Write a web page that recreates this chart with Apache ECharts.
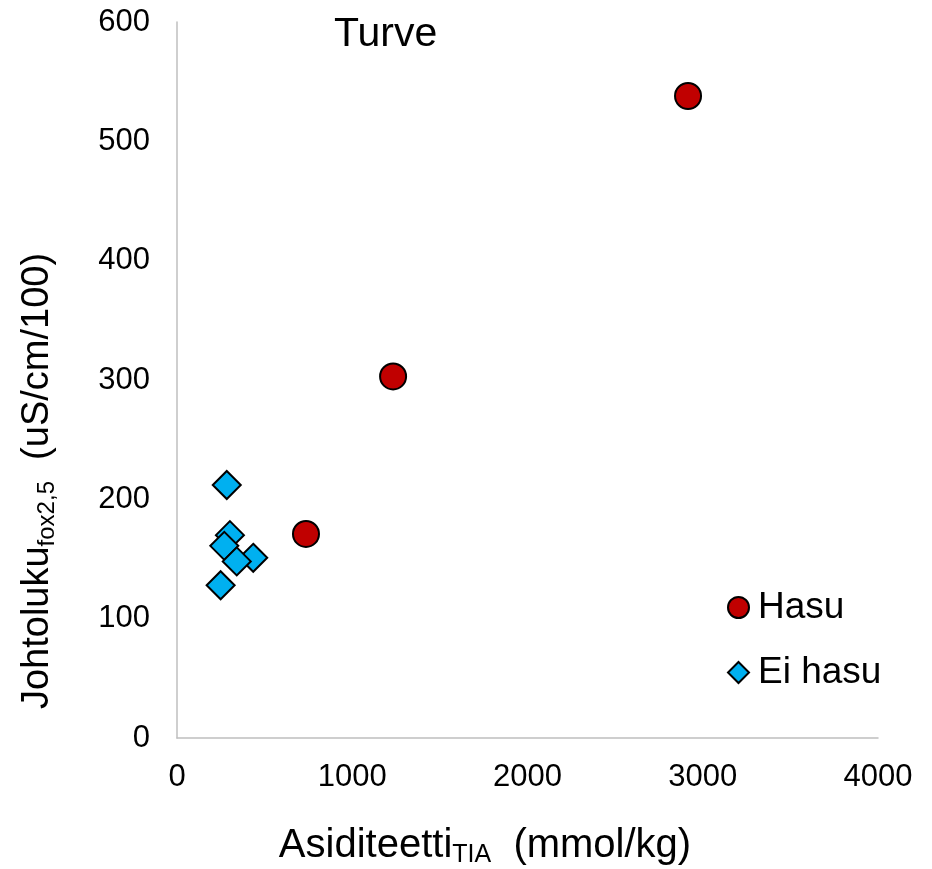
<!DOCTYPE html>
<html><head><meta charset="utf-8">
<script src="https://cdn.jsdelivr.net/npm/echarts@6/dist/echarts.min.js"></script>
<style>html,body{margin:0;padding:0;background:#fff}#c{width:932px;height:869px}</style>
</head><body><div id="c"></div>
<script>
const hasuX = [736, 1233, 2916];
const hasuY = [171, 303, 538];
const eiHasuX = [284, 302, 270, 435, 341, 249];
const eiHasuY = [212, 170, 161, 151, 148, 128];
const xTicks = [0, 1000, 2000, 3000, 4000];
const yTicks = [0, 100, 200, 300, 400, 500, 600];
const FONT = '"Liberation Sans", Arial, sans-serif';

const chart = echarts.init(document.getElementById('c'));
chart.setOption({
  animation: false,
  textStyle: {fontFamily: FONT},
  grid: {left: 177, right: 54, top: 22, bottom: 131},
  title: {text: 'Turve', left: 334, top: 14, padding: 0, textStyle: {fontFamily: FONT, fontSize: 41, fontWeight: 'normal', color: '#000'}},
  legend: {
    orient: 'vertical', left: 727, top: 589, itemGap: 28, padding: 0,
    itemWidth: 21, itemHeight: 21,
    textStyle: {fontFamily: FONT, fontSize: 37, color: '#000', padding: [0, 0, 0, 4]},
    data: [{name: 'Hasu', icon: 'circle'}, {name: 'Ei hasu', icon: 'diamond'}]
  },
  xAxis: {
    type: 'value', min: xTicks[0], max: xTicks[xTicks.length - 1], interval: 1000,
    axisLine: {show: true, lineStyle: {color: '#bfbfbf', width: 1.5}},
    axisTick: {show: false}, splitLine: {show: false},
    axisLabel: {fontFamily: FONT, fontSize: 31, color: '#000', margin: 24, formatter: v => String(v)}
  },
  yAxis: {
    type: 'value', min: yTicks[0], max: yTicks[yTicks.length - 1], interval: 100,
    axisLine: {show: true, onZero: false, lineStyle: {color: '#bfbfbf', width: 1.5}},
    axisTick: {show: false}, splitLine: {show: false},
    axisLabel: {fontFamily: FONT, fontSize: 31, color: '#000', margin: 27, formatter: v => String(v)}
  },
  graphic: [
    {type: 'text', position: [485, 846], style: {
      text: '{m|Asiditeetti}{s|TIA}{m|  (mmol/kg)}',
      textAlign: 'center', textVerticalAlign: 'middle',
      rich: {m: {fontFamily: FONT, fontSize: 40, fill: '#000', color: '#000'},
             s: {fontFamily: FONT, fontSize: 25, fill: '#000', color: '#000', padding: [18, 0, 0, 0]}}
    }},
    {type: 'text', position: [38, 481], rotation: Math.PI / 2, style: {
      text: '{m|Johtoluku}{s|fox2,5}{m|  (uS/cm/100)}',
      textAlign: 'center', textVerticalAlign: 'middle',
      rich: {m: {fontFamily: FONT, fontSize: 38, fill: '#000', color: '#000'},
             s: {fontFamily: FONT, fontSize: 24, fill: '#000', color: '#000', padding: [18, 0, 0, 0]}}
    }}
  ],
  series: [
    {name: 'Hasu', type: 'scatter', symbol: 'circle', symbolSize: 26,
     itemStyle: {color: '#c00000', borderColor: '#000', borderWidth: 2, opacity: 1},
     data: hasuX.map((x, i) => [x, hasuY[i]])},
    {name: 'Ei hasu', type: 'scatter', symbol: 'diamond', symbolSize: 28,
     itemStyle: {color: '#00b0f0', borderColor: '#000', borderWidth: 2, opacity: 1},
     data: eiHasuX.map((x, i) => [x, eiHasuY[i]])}
  ]
});
</script></body></html>
